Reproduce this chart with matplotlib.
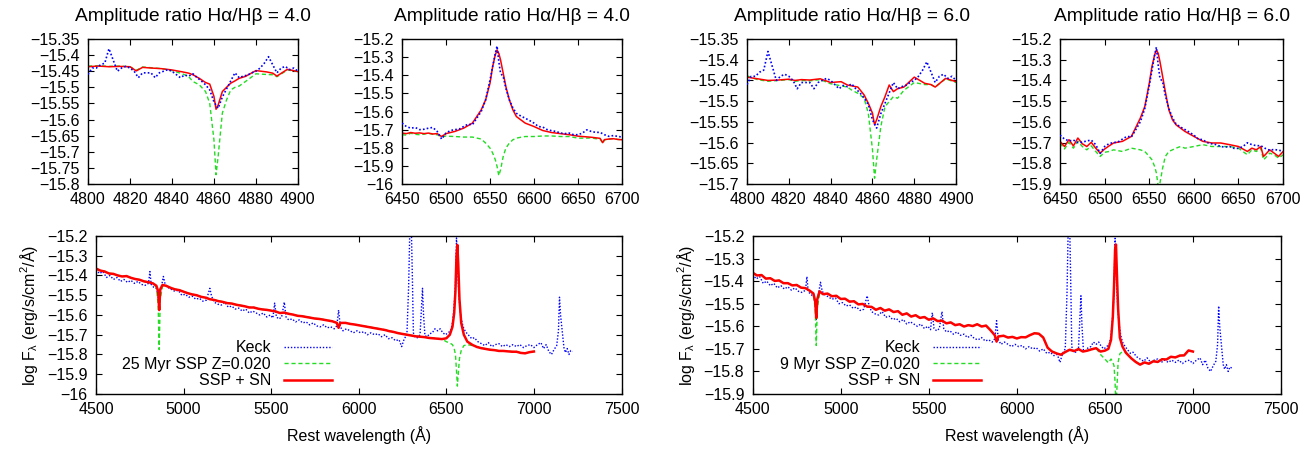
import matplotlib
matplotlib.use('Agg')
import matplotlib.pyplot as plt
from matplotlib.ticker import MultipleLocator, FuncFormatter

plt.rcParams['font.family'] = ['Liberation Sans', 'DejaVu Sans']
plt.rcParams['font.size'] = 11.5
plt.rcParams['mathtext.fontset'] = 'custom'
plt.rcParams['mathtext.rm'] = 'Liberation Sans'
plt.rcParams['mathtext.it'] = 'Liberation Sans:italic'

BLUE = '#0000ff'
GREEN = '#22dd22'
RED = '#ff0000'

# ---------------- full spectrum (bottom panels) ----------------
keck_wl = [4500, 4520, 4540, 4560, 4580, 4600, 4620, 4640, 4660, 4680,
           4700, 4720, 4740, 4760, 4780, 4800, 4808, 4815, 4830, 4845,
           4855, 4861, 4867, 4875, 4885, 4895, 4910, 4930, 4950, 4970,
           4990, 5010, 5030, 5050, 5070, 5090, 5110, 5130, 5150, 5160,
           5175, 5195, 5215, 5235, 5255, 5275, 5295, 5315, 5335, 5355,
           5375, 5395, 5415, 5435, 5455, 5475, 5495, 5510, 5520, 5530,
           5545, 5560, 5575, 5585, 5600, 5620, 5640, 5660, 5680, 5700,
           5720, 5740, 5760, 5780, 5800, 5820, 5840, 5860, 5875, 5885,
           5895, 5910, 5930, 5950, 5970, 5990, 6010, 6030, 6050, 6070,
           6090, 6110, 6130, 6150, 6170, 6190, 6210, 6230, 6245, 6260,
           6275, 6285, 6292, 6300, 6306, 6312, 6320, 6335, 6350, 6358,
           6364, 6370, 6378, 6390, 6405, 6420, 6435, 6450, 6465, 6480,
           6495, 6510, 6525, 6535, 6545, 6552, 6558, 6562, 6566, 6572,
           6580, 6590, 6600, 6615, 6630, 6645, 6660, 6680, 6700, 6720,
           6740, 6760, 6780, 6800, 6820, 6840, 6860, 6880, 6900, 6920,
           6940, 6960, 6980, 7000, 7020, 7040, 7055, 7070, 7085, 7100,
           7115, 7130, 7140, 7146, 7152, 7158, 7164, 7172, 7180, 7190,
           7200, 7210, 7220]
keck_flux = [-15.370, -15.390, -15.380, -15.410, -15.400, -15.420, -15.410, -15.430, -15.420, -15.435,
             -15.425, -15.440, -15.430, -15.445, -15.450, -15.440, -15.380, -15.445, -15.460, -15.465,
             -15.500, -15.570, -15.490, -15.450, -15.405, -15.445, -15.460, -15.470, -15.480, -15.475,
             -15.500, -15.495, -15.510, -15.505, -15.520, -15.515, -15.530, -15.525, -15.465, -15.505,
             -15.535, -15.545, -15.550, -15.535, -15.560, -15.555, -15.570, -15.565, -15.580, -15.570,
             -15.590, -15.580, -15.590, -15.600, -15.590, -15.610, -15.600, -15.615, -15.540, -15.610,
             -15.620, -15.610, -15.535, -15.610, -15.625, -15.620, -15.635, -15.625, -15.640, -15.635,
             -15.650, -15.640, -15.655, -15.660, -15.650, -15.665, -15.660, -15.670, -15.655, -15.575,
             -15.660, -15.680, -15.670, -15.680, -15.690, -15.680, -15.690, -15.685, -15.700, -15.690,
             -15.700, -15.695, -15.710, -15.700, -15.720, -15.715, -15.730, -15.725, -15.760, -15.720,
             -15.700, -15.450, -15.150, -15.150, -15.400, -15.690, -15.710, -15.715, -15.700, -15.560,
             -15.465, -15.600, -15.705, -15.710, -15.695, -15.690, -15.670, -15.680, -15.670, -15.690,
             -15.700, -15.690, -15.680, -15.640, -15.550, -15.450, -15.210, -15.300, -15.400, -15.500,
             -15.590, -15.640, -15.670, -15.690, -15.705, -15.720, -15.715, -15.735, -15.745, -15.755,
             -15.740, -15.760, -15.750, -15.745, -15.760, -15.750, -15.760, -15.750, -15.760, -15.750,
             -15.765, -15.755, -15.750, -15.765, -15.750, -15.740, -15.770, -15.750, -15.785, -15.800,
             -15.775, -15.755, -15.680, -15.510, -15.600, -15.650, -15.700, -15.770, -15.790, -15.770,
             -15.800, -15.780, -15.785]

model_wl = [4500, 4525, 4550, 4575, 4600, 4625, 4650, 4675, 4700, 4725,
            4750, 4775, 4800, 4825, 4845, 4855, 4861, 4867, 4880, 4900,
            4925, 4950, 4975, 5000, 5025, 5050, 5075, 5100, 5125, 5150,
            5175, 5200, 5225, 5250, 5275, 5300, 5325, 5350, 5375, 5400,
            5425, 5450, 5475, 5500, 5525, 5550, 5575, 5600, 5625, 5650,
            5675, 5700, 5725, 5750, 5775, 5800, 5825, 5850, 5875, 5885,
            5895, 5925, 5950, 5975, 6000, 6025, 6050, 6075, 6100, 6125,
            6150, 6175, 6200, 6225, 6250, 6275, 6300, 6325, 6350, 6375,
            6400, 6425, 6450, 6475, 6500, 6520, 6535, 6545, 6552, 6558,
            6563, 6568, 6575, 6585, 6600, 6620, 6650, 6675, 6700, 6725,
            6750, 6775, 6800, 6825, 6850, 6875, 6900, 6925, 6950, 6975,
            7000]

# 25 Myr model
ssp25_flux = [-15.364, -15.374, -15.379, -15.389, -15.391, -15.399, -15.404, -15.402, -15.411, -15.417,
              -15.421, -15.429, -15.433, -15.439, -15.460, -15.550, -15.775, -15.520, -15.455, -15.451,
              -15.461, -15.469, -15.473, -15.481, -15.489, -15.495, -15.499, -15.507, -15.511, -15.519,
              -15.523, -15.529, -15.533, -15.539, -15.541, -15.547, -15.551, -15.555, -15.561, -15.561,
              -15.567, -15.571, -15.573, -15.577, -15.581, -15.589, -15.587, -15.593, -15.597, -15.603,
              -15.605, -15.609, -15.613, -15.617, -15.619, -15.623, -15.627, -15.631, -15.639, -15.664,
              -15.639, -15.639, -15.644, -15.647, -15.651, -15.655, -15.659, -15.663, -15.667, -15.671,
              -15.675, -15.681, -15.685, -15.691, -15.695, -15.699, -15.703, -15.707, -15.709, -15.711,
              -15.715, -15.717, -15.719, -15.722, -15.735, -15.742, -15.750, -15.770, -15.800, -15.880,
              -15.960, -15.900, -15.820, -15.780, -15.755, -15.750, -15.755, -15.761, -15.767, -15.771,
              -15.775, -15.777, -15.781, -15.781, -15.783, -15.785, -15.785, -15.791, -15.793, -15.787,
              -15.784]
sn25_flux = [-15.365, -15.375, -15.380, -15.390, -15.392, -15.400, -15.405, -15.403, -15.412, -15.418,
             -15.422, -15.430, -15.434, -15.440, -15.452, -15.480, -15.575, -15.470, -15.448, -15.452,
             -15.462, -15.470, -15.474, -15.482, -15.490, -15.496, -15.500, -15.508, -15.512, -15.520,
             -15.524, -15.530, -15.534, -15.540, -15.542, -15.548, -15.552, -15.556, -15.562, -15.562,
             -15.568, -15.572, -15.574, -15.578, -15.582, -15.590, -15.588, -15.594, -15.598, -15.604,
             -15.606, -15.610, -15.614, -15.618, -15.620, -15.624, -15.628, -15.632, -15.640, -15.665,
             -15.640, -15.640, -15.645, -15.648, -15.652, -15.656, -15.660, -15.664, -15.668, -15.672,
             -15.676, -15.682, -15.686, -15.692, -15.696, -15.700, -15.704, -15.708, -15.710, -15.712,
             -15.716, -15.718, -15.720, -15.722, -15.718, -15.700, -15.660, -15.590, -15.480, -15.300,
             -15.245, -15.340, -15.520, -15.640, -15.700, -15.735, -15.752, -15.762, -15.768, -15.772,
             -15.776, -15.778, -15.782, -15.782, -15.784, -15.786, -15.786, -15.792, -15.794, -15.788,
             -15.785]

# 9 Myr model
ssp9_flux = [-15.362, -15.374, -15.372, -15.388, -15.386, -15.398, -15.396, -15.408, -15.408, -15.418,
             -15.416, -15.428, -15.430, -15.442, -15.460, -15.520, -15.685, -15.520, -15.455, -15.457,
             -15.454, -15.466, -15.464, -15.478, -15.477, -15.490, -15.488, -15.502, -15.500, -15.512,
             -15.513, -15.526, -15.518, -15.530, -15.524, -15.536, -15.532, -15.548, -15.542, -15.556,
             -15.550, -15.562, -15.558, -15.570, -15.564, -15.576, -15.574, -15.586, -15.582, -15.594,
             -15.590, -15.600, -15.594, -15.598, -15.590, -15.600, -15.596, -15.616, -15.639, -15.667,
             -15.644, -15.641, -15.649, -15.646, -15.653, -15.647, -15.648, -15.638, -15.630, -15.632,
             -15.649, -15.694, -15.711, -15.719, -15.725, -15.713, -15.703, -15.709, -15.700, -15.711,
             -15.707, -15.701, -15.696, -15.725, -15.745, -15.762, -15.745, -15.760, -15.775, -15.850,
             -15.960, -15.880, -15.760, -15.722, -15.712, -15.715, -15.742, -15.757, -15.769, -15.759,
             -15.765, -15.754, -15.757, -15.745, -15.746, -15.734, -15.737, -15.729, -15.728, -15.706,
             -15.711]
sn9_flux = [-15.363, -15.375, -15.373, -15.389, -15.387, -15.399, -15.397, -15.409, -15.409, -15.419,
            -15.417, -15.429, -15.431, -15.443, -15.455, -15.490, -15.563, -15.480, -15.445, -15.458,
            -15.455, -15.467, -15.465, -15.479, -15.478, -15.491, -15.489, -15.503, -15.501, -15.513,
            -15.514, -15.527, -15.519, -15.531, -15.525, -15.537, -15.533, -15.549, -15.543, -15.557,
            -15.551, -15.563, -15.559, -15.571, -15.565, -15.577, -15.575, -15.587, -15.583, -15.595,
            -15.591, -15.601, -15.595, -15.599, -15.591, -15.601, -15.597, -15.617, -15.640, -15.668,
            -15.645, -15.642, -15.650, -15.647, -15.654, -15.648, -15.649, -15.639, -15.631, -15.633,
            -15.650, -15.695, -15.712, -15.720, -15.726, -15.714, -15.704, -15.710, -15.701, -15.712,
            -15.708, -15.702, -15.697, -15.712, -15.708, -15.700, -15.660, -15.560, -15.420, -15.260,
            -15.238, -15.360, -15.520, -15.650, -15.690, -15.718, -15.742, -15.758, -15.770, -15.760,
            -15.766, -15.755, -15.758, -15.746, -15.747, -15.735, -15.738, -15.730, -15.729, -15.707,
            -15.712]

# ---------------- H-beta zoom ----------------
keck_hb_wl = [4800, 4802, 4804, 4806, 4808, 4810, 4812, 4814, 4816, 4818,
              4820, 4822, 4824, 4826, 4828, 4830, 4832, 4834, 4836, 4838,
              4840, 4842, 4844, 4846, 4848, 4850, 4852, 4854, 4856, 4858,
              4860, 4862, 4864, 4866, 4868, 4870, 4872, 4874, 4876, 4878,
              4880, 4882, 4884, 4886, 4888, 4890, 4892, 4894, 4896, 4898,
              4900]
keck_hb = [-15.460, -15.440, -15.440, -15.430, -15.425, -15.380, -15.415, -15.450, -15.440, -15.435,
           -15.440, -15.450, -15.470, -15.455, -15.455, -15.455, -15.470, -15.455, -15.450, -15.445,
           -15.450, -15.460, -15.470, -15.462, -15.465, -15.458, -15.470, -15.480, -15.492, -15.508,
           -15.545, -15.565, -15.530, -15.505, -15.480, -15.455, -15.470, -15.465, -15.462, -15.455,
           -15.450, -15.440, -15.425, -15.405, -15.430, -15.455, -15.440, -15.435, -15.445, -15.440,
           -15.450]

hb_wl = [4800, 4805, 4810, 4815, 4820, 4823, 4826, 4830, 4835, 4840, 4845, 4848, 4850, 4853, 4856,
         4858, 4860, 4861, 4862, 4864, 4866, 4868, 4870, 4872, 4875, 4880, 4885, 4888, 4890, 4895, 4900]
hb_ssp_r4 = [-15.434, -15.433, -15.435, -15.434, -15.436, -15.447, -15.437, -15.439, -15.442, -15.448,
             -15.458, -15.467, -15.482, -15.492, -15.513, -15.550, -15.663, -15.771, -15.714, -15.580,
             -15.539, -15.508, -15.500, -15.496, -15.482, -15.458, -15.460, -15.461, -15.467, -15.446, -15.451]
hb_sn_r4 = [-15.436, -15.434, -15.436, -15.435, -15.436, -15.449, -15.438, -15.440, -15.442, -15.446,
            -15.452, -15.456, -15.461, -15.472, -15.485, -15.490, -15.528, -15.568, -15.555, -15.513,
            -15.500, -15.487, -15.480, -15.472, -15.466, -15.448, -15.452, -15.456, -15.465, -15.444, -15.451]
hb_ssp_r6 = [-15.439, -15.448, -15.452, -15.450, -15.448, -15.452, -15.450, -15.451, -15.448, -15.458,
             -15.463, -15.466, -15.473, -15.481, -15.493, -15.529, -15.617, -15.686, -15.641, -15.561,
             -15.513, -15.501, -15.489, -15.493, -15.474, -15.455, -15.460, -15.460, -15.466, -15.446, -15.455]
hb_sn_r6 = [-15.442, -15.446, -15.450, -15.449, -15.447, -15.450, -15.448, -15.449, -15.446, -15.455,
            -15.453, -15.461, -15.463, -15.466, -15.485, -15.505, -15.529, -15.557, -15.545, -15.513,
            -15.489, -15.461, -15.477, -15.470, -15.466, -15.442, -15.457, -15.460, -15.466, -15.445, -15.453]

# ---------------- H-alpha zoom ----------------
keck_ha_wl = [6450, 6455, 6460, 6465, 6470, 6475, 6480, 6485, 6490, 6495, 6500, 6505, 6510, 6515,
              6520, 6525, 6530, 6535, 6540, 6545, 6550,
              6553, 6556, 6558, 6560, 6562, 6565, 6568, 6572, 6576,
              6580, 6585, 6590, 6595, 6600, 6605, 6610, 6615, 6620, 6625, 6630, 6635, 6640, 6645,
              6650, 6655, 6660, 6665, 6670, 6675, 6680, 6685, 6690, 6695, 6700]
keck_ha = [-15.664, -15.683, -15.692, -15.688, -15.700, -15.698, -15.692, -15.688, -15.710, -15.752,
           -15.719, -15.705, -15.700, -15.697, -15.683, -15.670, -15.673, -15.637, -15.600, -15.536, -15.426,
           -15.352, -15.279, -15.239, -15.325, -15.389, -15.407, -15.472, -15.536, -15.580,
           -15.610, -15.625, -15.637, -15.650, -15.664, -15.683, -15.686, -15.700, -15.706, -15.710,
           -15.719, -15.722, -15.719, -15.728, -15.728, -15.719, -15.701, -15.710, -15.715, -15.715,
           -15.728, -15.737, -15.733, -15.737, -15.741]

ha_wl = [6450, 6455, 6460, 6465, 6470, 6475, 6480, 6485, 6490, 6495, 6500, 6505, 6510,
         6520, 6530, 6540, 6545, 6550,
         6553, 6556, 6558, 6560, 6562, 6565, 6568, 6572, 6576,
         6580, 6585, 6590,
         6600, 6610, 6620, 6630, 6640, 6650, 6660,
         6665, 6670, 6675, 6678, 6680, 6685, 6690, 6695, 6700]
ha_ssp_r4 = [-15.728, -15.730, -15.720, -15.726, -15.728, -15.725, -15.720, -15.726, -15.728, -15.741,
             -15.735, -15.737, -15.738,
             -15.741, -15.741, -15.752, -15.774, -15.802,
             -15.829, -15.866, -15.903, -15.954, -15.921, -15.848, -15.802, -15.774, -15.756,
             -15.747, -15.742, -15.738,
             -15.738, -15.735, -15.735, -15.738, -15.738, -15.747, -15.747,
             -15.745, -15.750, -15.750, -15.776, -15.757, -15.752, -15.750, -15.754, -15.756]
ha_sn_r4 = [-15.719, -15.722, -15.716, -15.720, -15.718, -15.722, -15.719, -15.724, -15.722, -15.738,
            -15.722, -15.716, -15.710,
            -15.692, -15.664, -15.591, -15.536, -15.444,
            -15.352, -15.288, -15.261, -15.279, -15.316, -15.389, -15.462, -15.536, -15.591,
            -15.628, -15.646, -15.664,
            -15.683, -15.705, -15.716, -15.722, -15.728, -15.736, -15.740,
            -15.742, -15.745, -15.748, -15.772, -15.755, -15.752, -15.750, -15.754, -15.756]
ha_ssp_r6 = [-15.702, -15.731, -15.699, -15.727, -15.694, -15.719, -15.735, -15.716, -15.743, -15.767,
             -15.747, -15.743, -15.735,
             -15.743, -15.727, -15.735, -15.743, -15.767,
             -15.783, -15.815, -15.847, -15.911, -15.895, -15.823, -15.767, -15.743, -15.735,
             -15.727, -15.719, -15.727,
             -15.719, -15.710, -15.719, -15.719, -15.719, -15.727, -15.759,
             -15.735, -15.743, -15.727, -15.783, -15.775, -15.751, -15.759, -15.775, -15.759]
ha_sn_r6 = [-15.694, -15.719, -15.686, -15.716, -15.678, -15.706, -15.719, -15.699, -15.727, -15.751,
            -15.731, -15.716, -15.702,
            -15.694, -15.670, -15.582, -15.526, -15.414,
            -15.333, -15.277, -15.253, -15.269, -15.309, -15.381, -15.454, -15.542, -15.590,
            -15.614, -15.630, -15.646,
            -15.670, -15.694, -15.702, -15.702, -15.710, -15.719, -15.743,
            -15.727, -15.735, -15.719, -15.767, -15.759, -15.735, -15.751, -15.767, -15.743]


def fmt(v, pos):
    return ('%g' % round(v, 3)).replace('-', '\u2212')


def style(ax, xlim, ylim, xstep, ystep):
    ax.set_xlim(*xlim)
    ax.set_ylim(*ylim)
    ax.xaxis.set_major_locator(MultipleLocator(xstep))
    ax.yaxis.set_major_locator(MultipleLocator(ystep))
    ax.yaxis.set_major_formatter(FuncFormatter(fmt))
    ax.xaxis.set_major_formatter(FuncFormatter(fmt))
    ax.tick_params(direction='in', top=True, right=True, length=4, width=0.8, pad=6)
    for s in ax.spines.values():
        s.set_linewidth(1.0)


def curves(ax, wk, fk, wm, fs, fn, lab_ssp=None):
    ax.plot(wk, fk, color=BLUE, lw=1.2, ls=(0, (1, 1.3)), label='Keck', zorder=3)
    ax.plot(wm, fs, color=GREEN, lw=1.0, ls=(0, (3, 2)), label=lab_ssp, zorder=2)
    ax.plot(wm, fn, color=RED, lw=1.1, label='SSP + SN', zorder=2.5)


fig = plt.figure(figsize=(13.09, 4.49), dpi=100)

# top row
ax1 = fig.add_axes([0.0672, 0.5902, 0.1604, 0.3229])
curves(ax1, keck_hb_wl, keck_hb, hb_wl, hb_ssp_r4, hb_sn_r4)
style(ax1, (4800, 4900), (-15.8, -15.35), 20, 0.05)
ax1.set_title('Amplitude ratio H\u03b1/H\u03b2 = 4.0', pad=13)

ax2 = fig.add_axes([0.3071, 0.5902, 0.1681, 0.3229])
curves(ax2, keck_ha_wl, keck_ha, ha_wl, ha_ssp_r4, ha_sn_r4)
style(ax2, (6450, 6700), (-16, -15.2), 50, 0.1)
ax2.set_title('Amplitude ratio H\u03b1/H\u03b2 = 4.0', pad=13)

ax3 = fig.add_axes([0.5707, 0.5902, 0.1597, 0.3229])
curves(ax3, keck_hb_wl, keck_hb, hb_wl, hb_ssp_r6, hb_sn_r6)
style(ax3, (4800, 4900), (-15.7, -15.35), 20, 0.05)
ax3.set_title('Amplitude ratio H\u03b1/H\u03b2 = 6.0', pad=13)

ax4 = fig.add_axes([0.8098, 0.5902, 0.1704, 0.3229])
curves(ax4, keck_ha_wl, keck_ha, ha_wl, ha_ssp_r6, ha_sn_r6)
style(ax4, (6450, 6700), (-15.9, -15.2), 50, 0.1)
ax4.set_title('Amplitude ratio H\u03b1/H\u03b2 = 6.0', pad=13)

# bottom row
ylab = 'log F$_{\\mathrm{\\lambda}}$ (erg/s/cm$^{\\mathrm{2}}$/\u00c5)'

ax5 = fig.add_axes([0.0733, 0.1225, 0.4015, 0.3519])
ax5.plot(keck_wl, keck_flux, color=BLUE, lw=1.0, ls=(0, (1, 1.3)), label='Keck', zorder=2)
ax5.plot(model_wl, ssp25_flux, color=GREEN, lw=1.0, ls=(0, (3, 2)), label='25 Myr SSP Z=0.020', zorder=2.2)
ax5.plot(model_wl, sn25_flux, color=RED, lw=1.8, label='SSP + SN', zorder=2.5)
style(ax5, (4500, 7500), (-16, -15.2), 500, 0.1)
ax5.set_xlabel('Rest wavelength (\u00c5)', labelpad=6)
ax5.set_ylabel(ylab, labelpad=5)
ax5.legend(loc='upper right', bbox_to_anchor=(0.4485, 0.34), markerfirst=False, frameon=False,
           handlelength=3.0, handletextpad=0.8, labelspacing=0.1, borderpad=0, borderaxespad=0)

ax6 = fig.add_axes([0.5750, 0.1225, 0.4036, 0.3519])
ax6.plot(keck_wl, keck_flux, color=BLUE, lw=1.0, ls=(0, (1, 1.3)), label='Keck', zorder=2)
ax6.plot(model_wl, ssp9_flux, color=GREEN, lw=1.0, ls=(0, (3, 2)), label='9 Myr SSP Z=0.020', zorder=2.2)
ax6.plot(model_wl, sn9_flux, color=RED, lw=1.8, label='SSP + SN', zorder=2.5)
style(ax6, (4500, 7500), (-15.9, -15.2), 500, 0.1)
ax6.set_xlabel('Rest wavelength (\u00c5)', labelpad=6)
ax6.set_ylabel(ylab, labelpad=5)
ax6.legend(loc='upper right', bbox_to_anchor=(0.4316, 0.34), markerfirst=False, frameon=False,
           handlelength=3.0, handletextpad=0.8, labelspacing=0.1, borderpad=0, borderaxespad=0)

fig.savefig('out.png', dpi=100)
